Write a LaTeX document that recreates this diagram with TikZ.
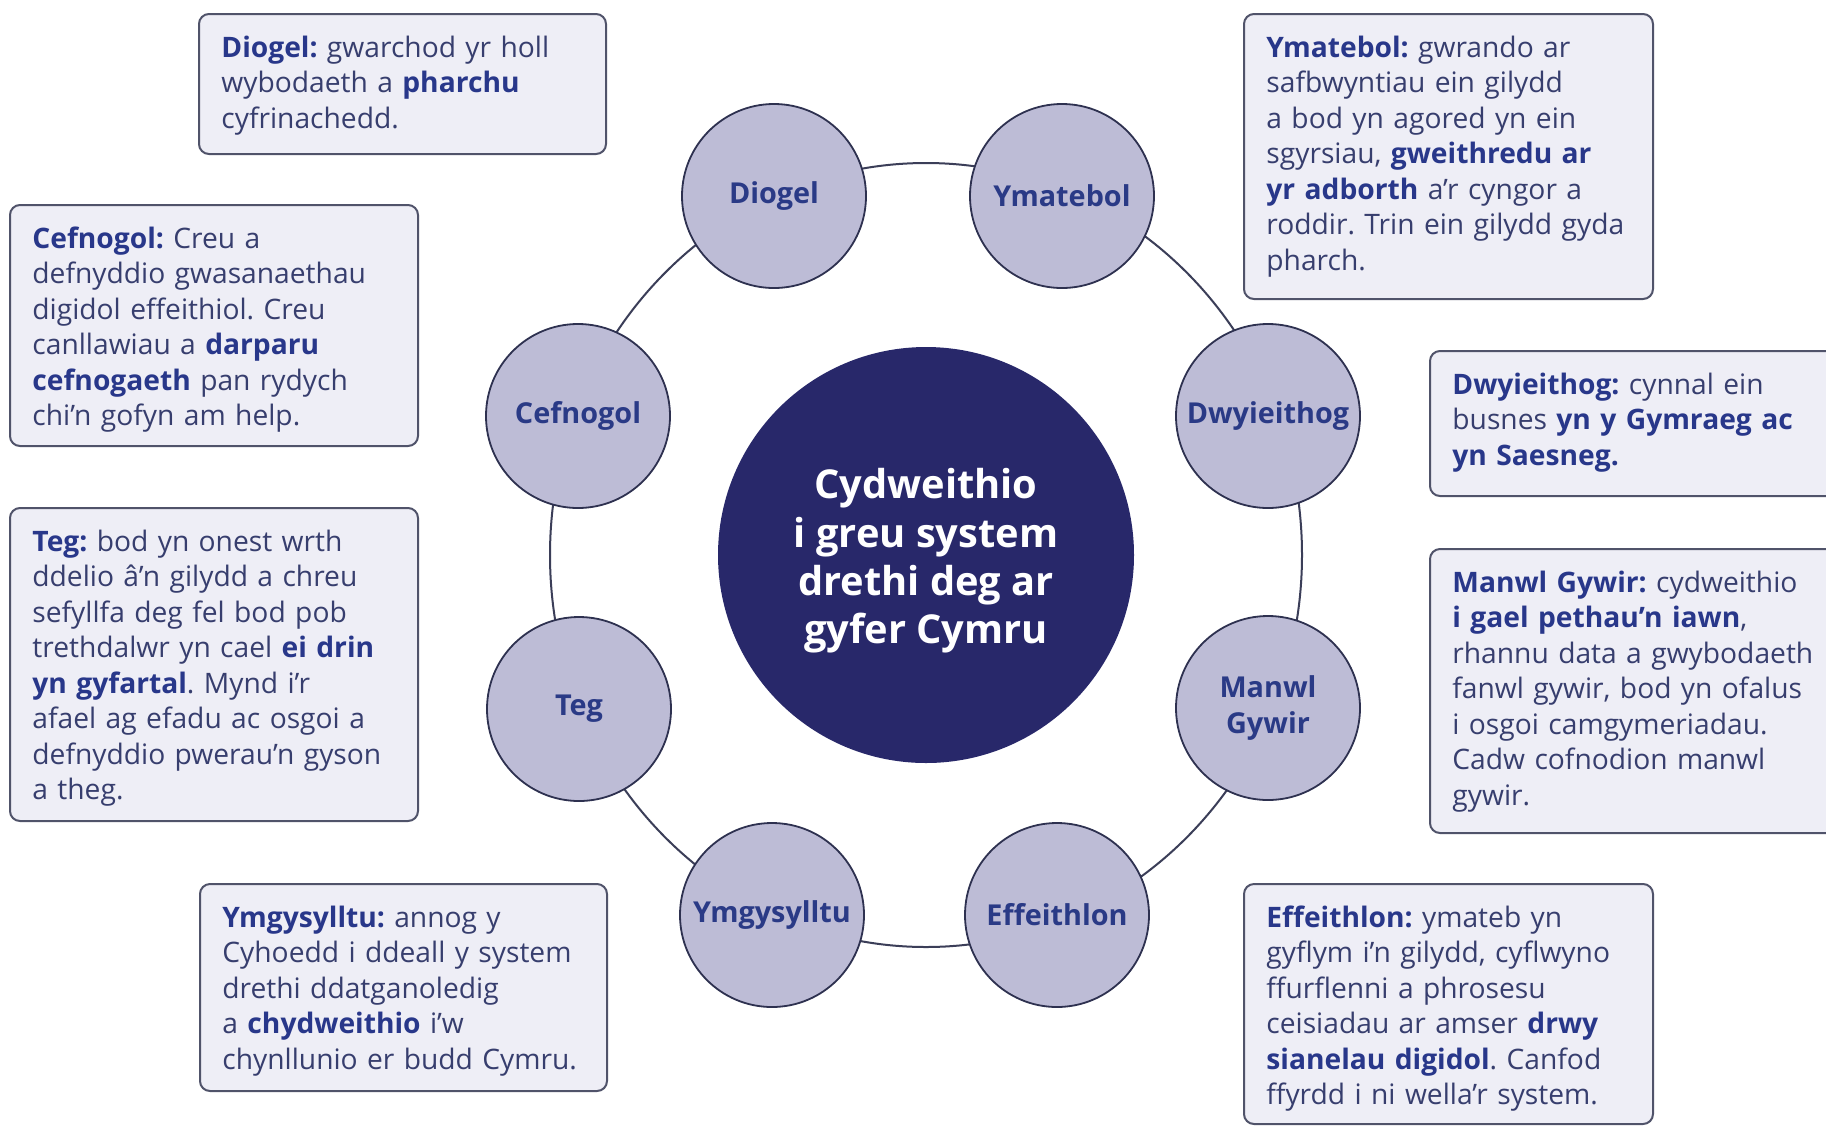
\documentclass[tikz,border=0pt]{standalone}
\usepackage{fontspec}
\setmainfont{Open Sans}
\frenchspacing
\definecolor{boxfill}{HTML}{EEEEF6}
\definecolor{boxdraw}{HTML}{50536A}
\definecolor{textcol}{HTML}{373E6E}
\definecolor{boldcol}{HTML}{28378A}
\definecolor{circfill}{HTML}{BDBCD6}
\definecolor{circdraw}{HTML}{2E3150}
\definecolor{labelcol}{HTML}{2A3A86}
\definecolor{corefill}{HTML}{28286A}
\definecolor{ringcol}{HTML}{3B3E58}
\newcommand{\kw}[1]{\textbf{\color{boldcol}#1}}
\tikzset{
  descbox/.style={draw=boxdraw, line width=1pt, fill=boxfill, rounded corners=5pt, anchor=north west, inner sep=0pt},
  desctext/.style={anchor=base west, inner sep=0pt, text width=210pt, align=left, text=textcol, font=\frenchspacing\fontsize{14.1}{17.75}\selectfont},
  valuenode/.style={circle, draw=circdraw, line width=0.9pt, fill=circfill, minimum size=92pt, inner sep=0pt, text=labelcol, font=\bfseries\fontsize{14.4}{18}\selectfont, align=center},
  corenode/.style={circle, fill=corefill, minimum size=208pt, inner sep=0pt, text=white, font=\bfseries\fontsize{19.9}{24.2}\selectfont, align=center},
  ringline/.style={draw=ringcol, line width=1pt}
}
\begin{document}
\begin{tikzpicture}[x=0.5pt,y=-0.5pt]
\useasboundingbox (0,0) rectangle (1826,1126);
\fill[white] (0,0) rectangle (1826,1126);

% centre
\node[corenode] (core) at (926,555) {};
\node[text=white, font=\bfseries\fontsize{19.9}{24.2}\selectfont, align=center, inner sep=0pt] (coretext) at (926,561) {Cydweithio\\i greu system\\drethi deg ar\\gyfer Cymru};
\draw[ringline] (core.center) ellipse [x radius=188pt, y radius=196pt];

% value circles
\node[valuenode] (diogel) at (774,196) {Diogel};
\node[valuenode] (ymatebol) at (1062,196) {Ymatebol};
\node[valuenode] (dwy) at (1268,416) {Dwyieithog};
\node[valuenode] (manwl) at (1268,708) {Manwl\\Gywir};
\node[valuenode] (effeith) at (1057,915) {Effeithlon};
\node[valuenode] (ymgys) at (772,915) {Ymgysylltu};
\node[valuenode] (teg) at (579,709) {Teg};
\node[valuenode] (cefn) at (578,416) {Cefnogol};

% description boxes
\node[descbox, minimum width=203.5pt, minimum height=70pt] (bdiogel) at (198,13) {};
\node[desctext] (tdiogel) at (221,57) {\kw{Diogel:} gwarchod yr holl\\wybodaeth a \kw{pharchu}\\cyfrinachedd.};

\node[descbox, minimum width=204.5pt, minimum height=142.5pt] (bymatebol) at (1243,13) {};
\node[desctext] (tymatebol) at (1266,57) {\kw{Ymatebol:} gwrando ar\\safbwyntiau ein gilydd\\a bod yn agored yn ein\\sgyrsiau, \kw{gweithredu ar}\\\kw{yr adborth} a’r cyngor a\\roddir. Trin ein gilydd gyda\\pharch.};

\node[descbox, minimum width=204pt, minimum height=120.5pt] (bcefn) at (9,204) {};
\node[desctext] (tcefn) at (32,248) {\kw{Cefnogol:} Creu a\\defnyddio gwasanaethau\\digidol effeithiol. Creu\\canllawiau a \kw{darparu}\\\kw{cefnogaeth} pan rydych\\chi’n gofyn am help.};

\node[descbox, minimum width=204pt, minimum height=156.5pt] (bteg) at (9,507) {};
\node[desctext] (tteg) at (32,551) {\kw{Teg:} bod yn onest wrth\\ddelio â’n gilydd a chreu\\sefyllfa deg fel bod pob\\trethdalwr yn cael \kw{ei drin}\\\kw{yn gyfartal}. Mynd i’r\\afael ag efadu ac osgoi a\\defnyddio pwerau’n gyson\\a theg.};

\node[descbox, minimum width=250pt, minimum height=72.5pt] (bdwy) at (1429,350) {};
\node[desctext] (tdwy) at (1452,394) {\kw{Dwyieithog:} cynnal ein\\busnes \kw{yn y Gymraeg ac}\\\kw{yn Saesneg.}};

\node[descbox, minimum width=250pt, minimum height=142pt] (bmanwl) at (1429,548) {};
\node[desctext] (tmanwl) at (1452,592) {\kw{Manwl Gywir:} cydweithio\\\kw{i gael pethau’n iawn},\\rhannu data a gwybodaeth\\fanwl gywir, bod yn ofalus\\i osgoi camgymeriadau.\\Cadw cofnodion manwl\\gywir.};

\node[descbox, minimum width=203.5pt, minimum height=103.5pt] (bymgys) at (199,883) {};
\node[desctext] (tymgys) at (222,927) {\kw{Ymgysylltu:} annog y\\Cyhoedd i ddeall y system\\drethi ddatganoledig\\a \kw{chydweithio} i’w\\chynllunio er budd Cymru.};

\node[descbox, minimum width=204.5pt, minimum height=120pt] (beffeith) at (1243,883) {};
\node[desctext] (teffeith) at (1266,927) {\kw{Effeithlon:} ymateb yn\\gyflym i’n gilydd, cyflwyno\\ffurflenni a phrosesu\\ceisiadau ar amser \kw{drwy}\\\kw{sianelau digidol}. Canfod\\ffyrdd i ni wella’r system.};
\end{tikzpicture}
\end{document}
